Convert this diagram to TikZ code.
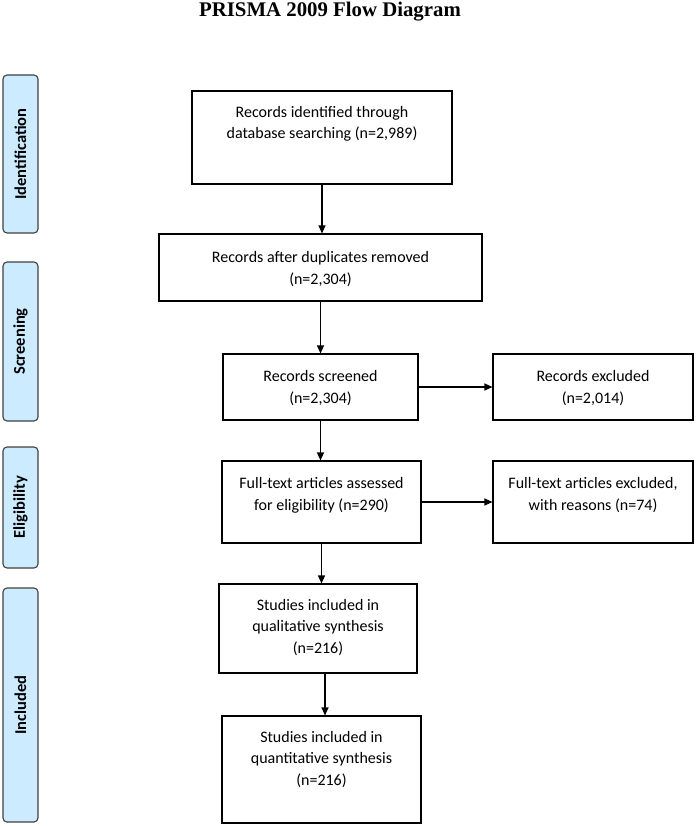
\documentclass[tikz,border=0pt]{standalone}
\usepackage{fontspec}
\setmainfont{Carlito}
\newfontfamily\titlefont{Liberation Serif}
\usetikzlibrary{arrows.meta}
\definecolor{sidefill}{HTML}{CDEBFF}
\definecolor{sidedraw}{HTML}{404040}
\tikzset{
  flowbox/.style={draw=black, line width=1.1pt, inner sep=0pt},
  sidebox/.style={draw=sidedraw, fill=sidefill, line width=1.1pt, rounded corners=4pt, inner sep=0pt},
  boxtext/.style={align=center, font=\fontsize{16}{21.5}\selectfont, inner sep=0pt, anchor=base},
  sidetext/.style={rotate=90, font=\fontsize{16.5}{19}\selectfont\bfseries, inner sep=0pt},
  flowarrow/.style={line width=1.1pt, -{Triangle[length=8pt,width=7pt]}}
}
\begin{document}
\begin{tikzpicture}[x=1pt,y=-1pt]
\useasboundingbox (0,0) rectangle (697,826);
\node[font=\titlefont\fontsize{20.8}{24}\selectfont\bfseries, anchor=base, inner sep=0pt] (title) at (330,17) {PRISMA 2009 Flow Diagram};

% side boxes
\path[sidebox] (3,75) rectangle (38,233) node[midway, sidetext] (sid) {Identification};
\path[sidebox] (3,262) rectangle (38,421) node[midway, sidetext] (sscr) {Screening};
\path[sidebox] (3,447) rectangle (38,568) node[midway, sidetext] (selig) {Eligibility};
\path[sidebox] (3,588) rectangle (38,822) node[midway, sidetext] (sinc) {Included};

% flow boxes
\node[flowbox, minimum width=260pt, minimum height=93pt] (b1) at (322,137.5) {};
\node[boxtext] (t1) at (322,139) {Records identified through\\database searching (n=2,989)};
\node[flowbox, minimum width=323pt, minimum height=67pt] (b2) at (320.5,267.5) {};
\node[boxtext] (t2) at (320.5,284) {Records after duplicates removed\\(n=2,304)};
\node[flowbox, minimum width=195pt, minimum height=66pt] (b3) at (320.5,387) {};
\node[boxtext] (t3) at (320.5,403) {Records screened\\(n=2,304)};
\node[flowbox, minimum width=200pt, minimum height=66pt] (e1) at (593,387) {};
\node[boxtext] (te1) at (593,403) {Records excluded\\(n=2,014)};
\node[flowbox, minimum width=199pt, minimum height=82pt] (b4) at (321.5,502) {};
\node[boxtext] (t4) at (321.5,510) {Full-text articles assessed\\for eligibility (n=290)};
\node[flowbox, minimum width=200pt, minimum height=82pt] (e2) at (593,502) {};
\node[boxtext] (te2) at (593,510) {Full-text articles excluded,\\with reasons (n=74)};
\node[flowbox, minimum width=198pt, minimum height=89pt] (b5) at (318,628.5) {};
\node[boxtext] (t5) at (318,653) {Studies included in\\qualitative synthesis\\(n=216)};
\node[flowbox, minimum width=199pt, minimum height=107pt] (b6) at (321.5,769.5) {};
\node[boxtext] (t6) at (321.5,785) {Studies included in\\quantitative synthesis\\(n=216)};

% arrows
\draw[flowarrow] (b1.south) -- (b1.south |- b2.north);
\draw[flowarrow] (b2.south) -- (b2.south |- b3.north);
\draw[flowarrow] (b3.south) -- (b3.south |- b4.north);
\draw[flowarrow] (b4.south) -- (b4.south |- b5.north);
\draw[flowarrow] ([xshift=7pt]b5.south) -- ([xshift=7pt]b5.south |- b6.north);
\draw[flowarrow] (b3.east) -- (e1.west);
\draw[flowarrow] (b4.east) -- (e2.west);
\end{tikzpicture}
\end{document}
